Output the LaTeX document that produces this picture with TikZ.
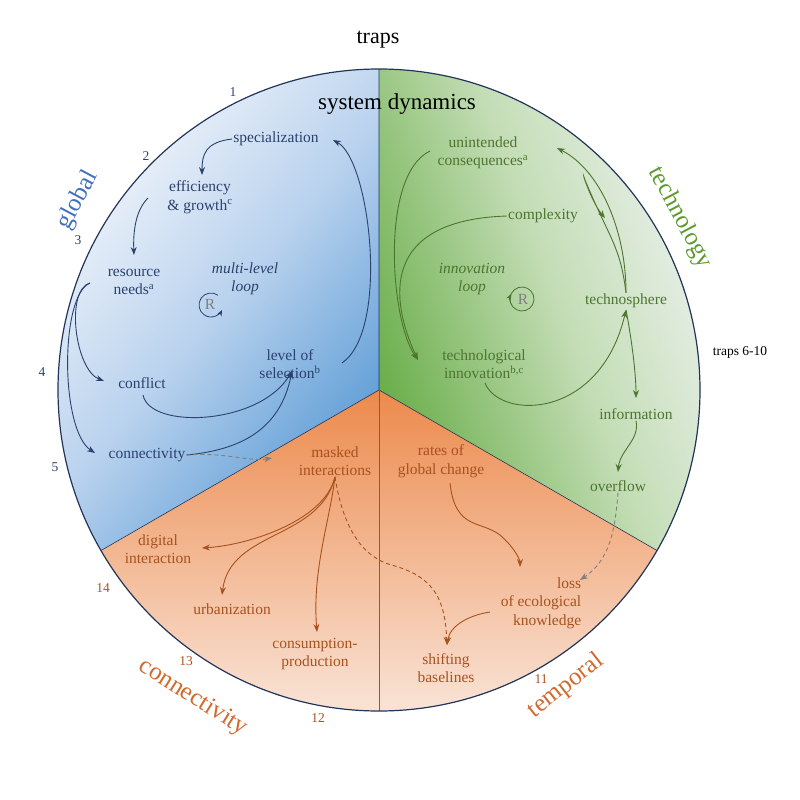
\documentclass[tikz,border=0pt]{standalone}
\usepackage{fontspec}
\setmainfont{Liberation Serif}
\usetikzlibrary{arrows.meta}
\definecolor{bl}{HTML}{2B416E}
\definecolor{gr}{HTML}{4D7530}
\definecolor{og}{HTML}{A8521E}
\definecolor{blT}{HTML}{4170B8}
\definecolor{grT}{HTML}{5F9A30}
\definecolor{ogT}{HTML}{D06A2E}
\definecolor{blD}{HTML}{5B9BD5}
\definecolor{blM}{HTML}{B9D2EE}
\definecolor{blL}{HTML}{F3F6FB}
\definecolor{grD}{HTML}{6AAE4A}
\definecolor{grM}{HTML}{C4DDB6}
\definecolor{grL}{HTML}{F4F6FA}
\definecolor{orD}{HTML}{EC8A4C}
\definecolor{orL}{HTML}{FBF0EA}
\begin{document}
\begin{tikzpicture}[x=1pt,y=-1pt,
  t/.style={font=\fontsize{15.5}{18.5}\selectfont, align=center, inner sep=1pt},
  bt/.style={t, text=bl}, gt/.style={t, text=gr}, ot/.style={t, text=og},
  num/.style={font=\fontsize{13.5}{15}\selectfont, inner sep=0pt},
  big/.style={font=\fontsize{25}{28}\selectfont, inner sep=0pt},
  tip/.style={-{Stealth[length=8pt,width=6pt]}},
  ba/.style={tip, draw=bl, line width=0.9pt},
  ga/.style={tip, draw=gr, line width=0.9pt},
  oa/.style={tip, draw=og, line width=0.9pt},
  da/.style={tip, draw=gray, dash pattern=on 4pt off 3pt, line width=0.9pt}]
\useasboundingbox (0,0) rectangle (800,800);
% sectors
\begin{scope}[shift={(379,390)}, y=1pt]
  \shade[top color=blL, bottom color=blD, middle color=blM, shading angle=50]
    (0,0) -- (90:321) arc (90:210:321) -- cycle;
  \shade[top color=grD, bottom color=grL, middle color=grM, shading angle=110]
    (0,0) -- (-30:321) arc (-30:90:321) -- cycle;
  \shade[top color=orD, bottom color=orL]
    (0,0) -- (210:321) arc (210:330:321) -- cycle;
  \draw[line width=0.6pt, draw=bl!80!black] (0,0) -- (90:321) (0,0) -- (210:321) (0,0) -- (-30:321);
  \draw[line width=0.6pt, draw=og] (0,0) -- (270:321);
  \draw[line width=1.2pt, draw=bl!80!black] (0,0) circle (321);
\end{scope}
% titles
\node[font=\fontsize{22}{26}\selectfont] (traps) at (378,40) {traps};
\node[font=\fontsize{23}{26}\selectfont, inner sep=0pt] (sd) at (397,104) {system dynamics};
\node[big, text=blT, rotate=62] (glob) at (78,200) {global};
\node[big, text=grT, rotate=-62] (tech) at (680,218) {technology};
\node[big, text=ogT, rotate=-32] (conn) at (193,698) {connectivity};
\node[big, text=ogT, rotate=38] (temp) at (566,686) {temporal};
\node[num, text=bl] (n1) at (233,92) {1};
\node[num, text=bl] (n2) at (146,156) {2};
\node[num, text=bl] (n3) at (78,240) {3};
\node[num, text=bl] (n4) at (42,372) {4};
\node[num, text=bl] (n5) at (55,467) {5};
\node[num, text=og] (n14) at (103,588) {14};
\node[num, text=og] (n13) at (186,661) {13};
\node[num, text=og] (n12) at (318,718) {12};
\node[num, text=og] (n11) at (541,679) {11};
\node[num] (n610) at (740,352) {traps 6-10};
% blue nodes
\node[bt] (spec) at (276,139) {specialization};
\node[bt] (eff) at (200,197) {efficiency\\\& growth\textsuperscript{c}};
\node[bt] (res) at (134,282) {resource\\needs\textsuperscript{a}};
\node[bt, font=\fontsize{15.5}{18.5}\selectfont\itshape] (mll) at (245,279) {multi-level\\loop};
\node[t, text=gray] (r1) at (210,304) {R};
\node[bt] (lev) at (290,364) {level of\\selection\textsuperscript{b}};
\node[bt] (confl) at (142,383) {conflict};
\node[bt] (connv) at (147,455) {connectivity};
% green nodes
\node[gt] (unint) at (483,153) {unintended\\consequences\textsuperscript{a}};
\node[gt] (compl) at (543,216) {complexity};
\node[gt, font=\fontsize{15.5}{18.5}\selectfont\itshape] (innl) at (472,279) {innovation\\loop};
\node[t, text=gray] (r2) at (523,299) {R};
\node[gt] (techs) at (626,301) {technosphere};
\node[gt] (techi) at (484,364) {technological\\innovation\textsuperscript{b,c}};
\node[gt] (info) at (636,414) {information};
\node[gt] (over) at (618,486) {overflow};
% orange nodes
\node[ot] (mask) at (335,461) {masked\\interactions};
\node[ot] (rates) at (441,461) {rates of\\global change};
\node[ot] (dig) at (158,549) {digital\\interaction};
\node[ot] (urb) at (232,609) {urbanization};
\node[ot] (cons) at (315,654) {consumption-\\production};
\node[ot] (shift) at (446,668) {shifting\\baselines};
\node[ot, align=right] (loss) at (541,603) {loss\\of ecological\\knowledge};
% loops
\begin{scope}[shift={(211,305)}, y=1pt]
  \draw[ba, line width=0.8pt, -{Stealth[length=6pt,width=5pt]}] (55:12) arc (55:335:12);
\end{scope}
\begin{scope}[shift={(522,299)}, y=1pt]
  \draw[ga, line width=0.8pt, -{Stealth[length=6pt,width=5pt]}] (220:12) arc (220:-205:12);
\end{scope}
% blue arrows
\draw[ba] (spec.west) .. controls (205,142) and (202,155) .. (202,175);
\draw[ba] (148,198) .. controls (136,210) and (133,230) .. (134,255);
\draw[ba] (90,283) .. controls (65,290) and (75,370) .. (104,381);
\draw[ba] (90,283) .. controls (60,295) and (60,430) .. (95,453);
\draw[ba] (143,395) .. controls (150,430) and (260,425) .. (292,371);
\draw[ba] (connv.east) .. controls (240,450) and (280,430) .. (292,371);
\draw[ba] (342,363) .. controls (390,330) and (370,160) .. (333,140);
\draw[da] (connv.east) .. controls (225,452) and (250,462) .. (272,458);
% green arrows
\draw[ga] (430,151) .. controls (380,175) and (390,320) .. (418,360);
\draw[ga] (compl.west) .. controls (380,220) and (390,300) .. (418,360);
\draw[ga] (techs.north) .. controls (626,230) and (600,170) .. (557,148);
\draw[ga] (techs.north) .. controls (620,245) and (610,240) .. (585,180) .. controls (580,165) and (590,200) .. (605,218);
\draw[ga] (485,383) .. controls (500,420) and (600,420) .. (626,310);
\draw[ga] (626,310) .. controls (630,330) and (636,370) .. (636,398);
\draw[ga] (info.south) .. controls (640,440) and (620,450) .. (618,472);
\draw[da] (over.south) .. controls (615,530) and (610,560) .. (580,580);
% orange arrows
\draw[oa] (mask.south) .. controls (325,520) and (250,545) .. (202,548);
\draw[oa] (mask.south) .. controls (320,540) and (230,530) .. (222,595);
\draw[oa] (mask.south) .. controls (330,520) and (312,570) .. (317,632);
\draw[oa, dash pattern=on 4pt off 3pt] (mask.south) .. controls (345,540) and (370,560) .. (395,566) .. controls (435,578) and (445,600) .. (447,645);
\draw[oa] (450,483) .. controls (455,530) and (480,520) .. (500,535) .. controls (515,548) and (520,560) .. (520,567);
\draw[oa] (490,612) .. controls (470,615) and (450,625) .. (447,645);
\end{tikzpicture}
\end{document}
